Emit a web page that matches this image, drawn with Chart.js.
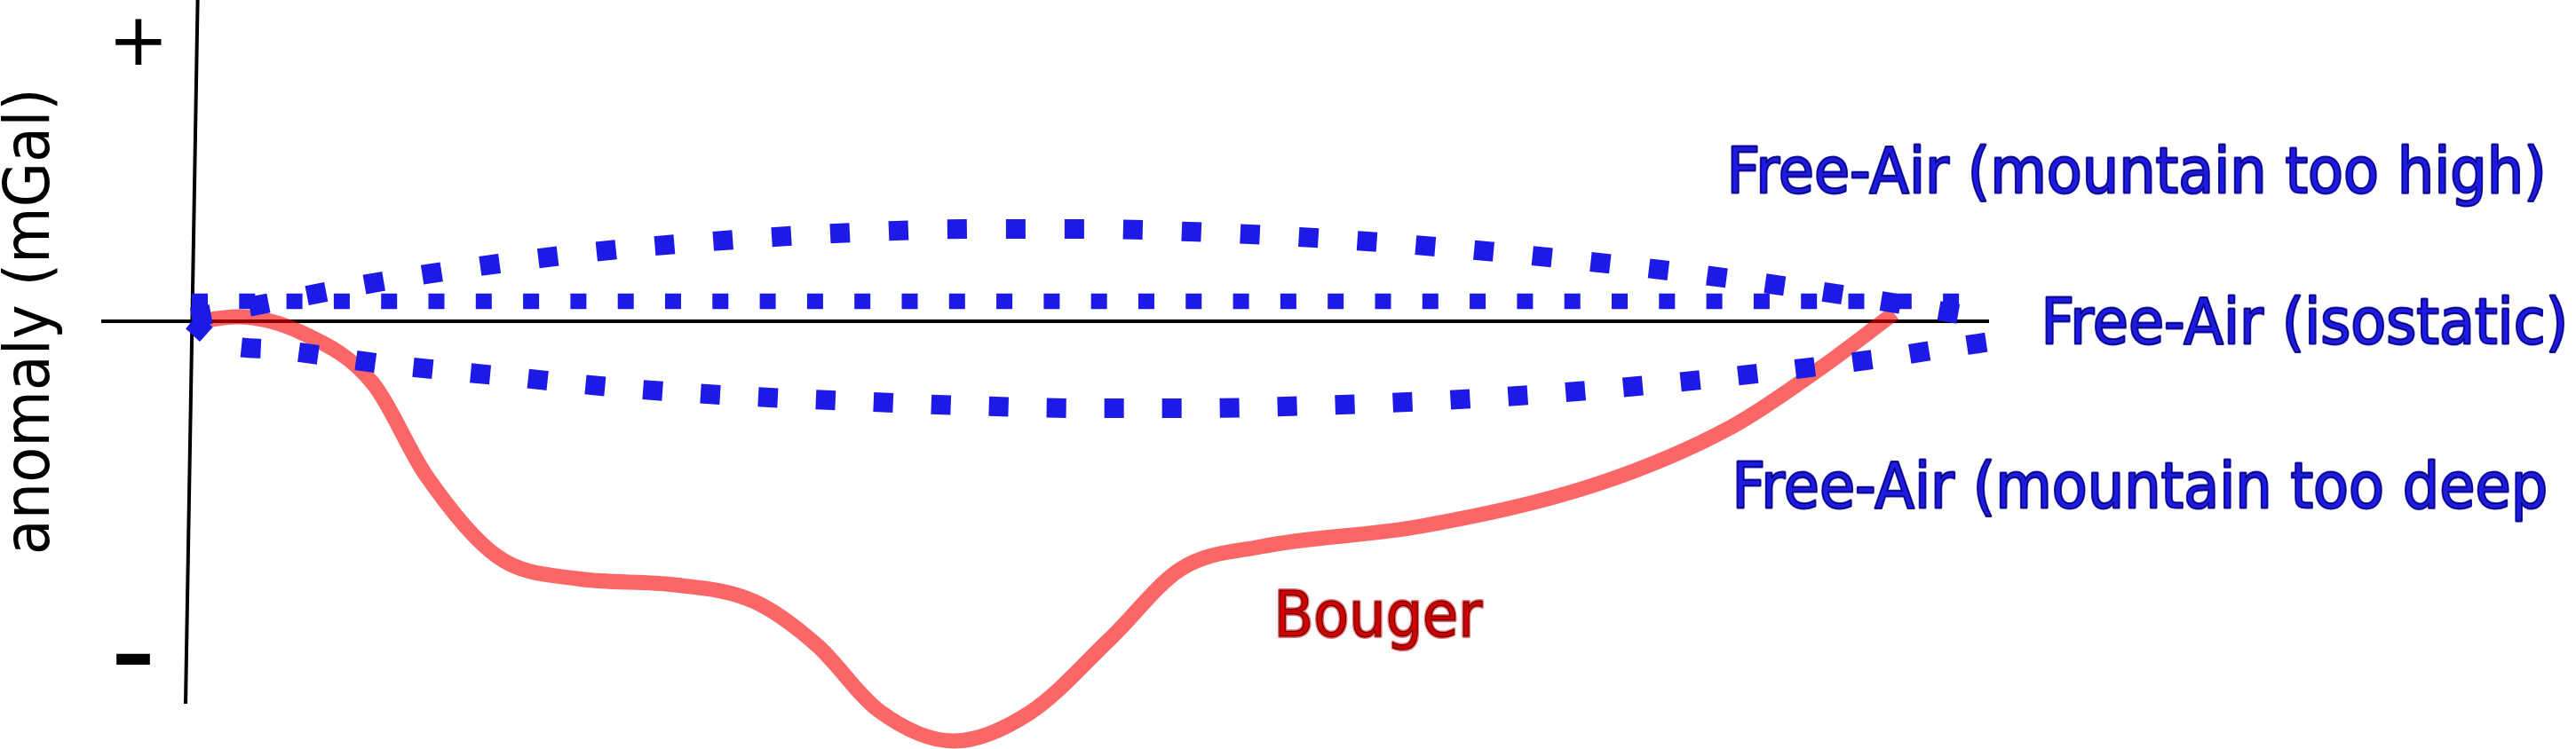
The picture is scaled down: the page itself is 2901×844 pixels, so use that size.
<!DOCTYPE html>
<html>
<head>
<meta charset="utf-8">
<title>Free-air and Bouger anomalies</title>
<script src="https://cdn.jsdelivr.net/npm/chart.js@4.4.1/dist/chart.umd.min.js"></script>
<style>
  html, body { margin: 0; padding: 0; background: #fff; overflow: hidden; }
  #wrap { width: 2901px; height: 844px; }
</style>
</head>
<body>
<div id="wrap"><canvas id="myChart" width="2901" height="844"></canvas></div>
<script>
"use strict";

/* sketch units: x = distance across the mountain, y = anomaly (mGal, arbitrary) */
var zeroLineX = [-5.1, 101.2];
var zeroLineY = [0, 0];
var axisX = [0.33, -0.35];
var axisY = [90.5, -107.75];

var bougerX = [0.1, 2.55, 6.2, 10.2, 13.2, 17.2, 21.7, 27.2, 31.7, 35.2, 38.7, 42.9,
               47.2, 51.7, 55.7, 60.2, 69.2, 79.2, 86.7, 91.7, 95.85];
var bougerY = [-0.25, 1.25, -3.25, -17.5, -43.5, -66.25, -72.5, -74.25, -79, -91.25, -109.75, -118.25,
               -110.25, -89.5, -69.75, -63.5, -57.75, -45.75, -29.75, -13.25, 2.25];

var highX = [0, 4.2, 10.75, 17.3, 24, 30.65, 37.3, 44, 50.65, 57.35, 64, 70.65, 77.35, 83.95, 90.6, 97.2, 101.2];
var highY = [1, 5, 11.25, 16.25, 20.25, 23, 25, 26, 26, 25, 23.25, 20.75, 17.5, 13.75, 9.25, 4, 0.5];

var isoX = [0, 99.6];
var isoY = [5.6, 5.6];

var deepX = [0, 1.5, 4.75, 11.15, 17.65, 24.1, 30.65, 37.1, 43.55, 50.05, 56.55, 63.05, 69.55, 76.05,
             82.5, 89, 95.4, 98.6, 101.6];
var deepY = [0, -6, -8, -12.25, -15.5, -18.75, -21, -22.5, -23.75, -24.5, -24.5, -23.75, -22.5, -20.5,
             -17.75, -14.25, -10.25, -7.75, -5.5];

var blue = '#1d19e6';

/* text on the sketch, anchored in data units */
var labels = [
    { text: 'Free-Air (mountain too high)', x: 86.7, y: 36.25, anchor: 'left', style: 'blue' },
    { text: 'Free-Air (isostatic)', x: 104.4, y: -6.25, anchor: 'left', style: 'blue' },
    { text: 'Free-Air (mountain too deep', x: 87, y: -52.5, anchor: 'left', style: 'blue' },
    { text: 'Bouger', x: 61.2, y: -88.75, anchor: 'left', style: 'red' },
    { text: 'anomaly (mGal)', x: -9.05, y: -0.25, anchor: 'center', style: 'axis', rotate: -Math.PI / 2 },
    { text: '+', x: -3, y: 78.75, anchor: 'center', style: 'sign' },
    { text: '\u2013', x: -3.3, y: -95, anchor: 'center', style: 'signBold' }
];

function pts(xs, ys) {
    var out = [];
    for (var i = 0; i < xs.length; i++) {
        out.push({ x: xs[i], y: ys[i] });
    }
    return out;
}

var labelPlugin = {
    id: 'sketchLabels',
    afterDatasetsDraw: function (chart) {
        var ctx = chart.ctx;
        var xs = chart.scales.x, ys = chart.scales.y;
        labels.forEach(function (l) {
            var px = xs.getPixelForValue(l.x);
            var py = ys.getPixelForValue(l.y);
            var stretch = 0.92;
            var font = '71px "DejaVu Sans"';
            if (l.style === 'sign') { font = '82px "DejaVu Sans"'; stretch = 1; }
            if (l.style === 'signBold') { font = 'bold 96px "DejaVu Sans"'; stretch = 1; }
            ctx.save();
            ctx.font = font;
            ctx.textAlign = 'left';
            ctx.textBaseline = 'alphabetic';
            ctx.lineJoin = 'round';
            var m = ctx.measureText(l.text);
            var ox = m.actualBoundingBoxLeft, oy = 0;
            if (l.anchor === 'center') {
                ox = -(m.actualBoundingBoxLeft + m.actualBoundingBoxRight) / 2 + m.actualBoundingBoxLeft;
                oy = (m.actualBoundingBoxAscent - m.actualBoundingBoxDescent) / 2;
            }
            ctx.translate(px, py);
            if (l.rotate) { ctx.rotate(l.rotate); }
            ctx.scale(stretch, 1);
            if (l.style === 'blue') {
                ctx.lineWidth = 3;
                ctx.strokeStyle = blue;
                ctx.strokeText(l.text, ox, oy);
                ctx.fillStyle = blue;
                ctx.fillText(l.text, ox, oy);
                ctx.lineWidth = 1;
                ctx.strokeStyle = 'rgba(0,0,0,0.8)';
                ctx.strokeText(l.text, ox, oy);
            } else if (l.style === 'red') {
                ctx.lineWidth = 4;
                ctx.strokeStyle = 'rgba(255,70,70,0.8)';
                ctx.strokeText(l.text, ox, oy);
                ctx.fillStyle = '#d00000';
                ctx.fillText(l.text, ox, oy);
                ctx.lineWidth = 1;
                ctx.strokeStyle = 'rgba(0,0,0,0.8)';
                ctx.strokeText(l.text, ox, oy);
            } else {
                ctx.fillStyle = '#000';
                ctx.fillText(l.text, ox, oy);
            }
            ctx.restore();
        });
    }
};

var ctx = document.getElementById('myChart');
var chart = new Chart(ctx, {
    type: 'line',
    data: {
        datasets: [
            { label: 'zero', data: pts(zeroLineX, zeroLineY), borderColor: '#000', borderWidth: 4, tension: 0, order: 4 },
            { label: 'axis', data: pts(axisX, axisY), borderColor: '#000', borderWidth: 4, tension: 0, order: 4 },
            { label: 'Bouger', data: pts(bougerX, bougerY), borderColor: 'rgba(248,0,0,0.6)', borderWidth: 17,
              cubicInterpolationMode: 'monotone', order: 2 },
            { label: 'Free-Air (mountain too high)', data: pts(highX, highY), borderColor: blue, borderWidth: 22,
              borderDash: [22, 44], cubicInterpolationMode: 'monotone', order: 1 },
            { label: 'Free-Air (isostatic)', data: pts(isoX, isoY), borderColor: blue, borderWidth: 17.5,
              borderDash: [18, 35.3], tension: 0, order: 1 },
            { label: 'Free-Air (mountain too deep)', data: pts(deepX, deepY), borderColor: blue, borderWidth: 22,
              borderDash: [22, 43], cubicInterpolationMode: 'monotone', order: 1 }
        ]
    },
    options: {
        responsive: false,
        devicePixelRatio: 1,
        animation: false,
        events: [],
        layout: { padding: 0 },
        elements: { point: { radius: 0 }, line: { borderCapStyle: 'butt', fill: false } },
        plugins: { legend: { display: false }, tooltip: { enabled: false } },
        scales: {
            x: { type: 'linear', min: -10.8, max: 134.25, display: false },
            y: { type: 'linear', min: -120.5, max: 90.5, display: false }
        }
    },
    plugins: [labelPlugin]
});
</script>
</body>
</html>
